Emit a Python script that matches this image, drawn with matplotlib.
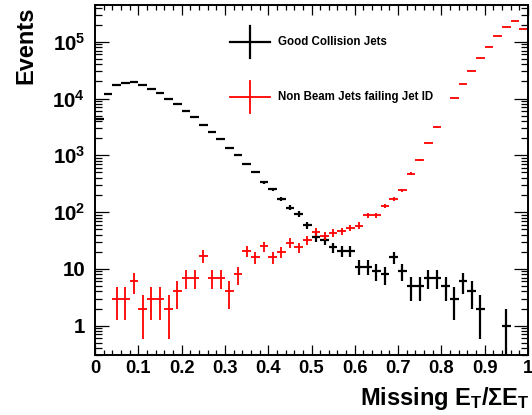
import numpy as np
import matplotlib.pyplot as plt
from matplotlib.ticker import FixedLocator, MultipleLocator, LogLocator, NullFormatter

plt.rcParams['font.family'] = ['Liberation Sans', 'DejaVu Sans']
plt.rcParams['font.weight'] = 'bold'
plt.rcParams['mathtext.fontset'] = 'custom'
plt.rcParams['mathtext.rm'] = 'Liberation Sans:bold'
plt.rcParams['mathtext.bf'] = 'Liberation Sans:bold'

# 50 bins of Missing ET / Sum ET, width 0.02
bin_width = 0.02
n_bins = 50

# events per bin (nan = empty bin)
good_jets = [4280, 11800, 17200, 18800, 19300, 17000, 14700, 12300, 10000, 7900,
             5950, 4640, 3440, 2590, 1900, 1320, 993, 717, 504, 335,
             253, 170, 120, 93, 59, 36, 32, 24, 21, 21,
             11, 11, 9, 8, 16, 9, 5, 5, 7, 7,
             5, 3, 6, 4, 2, np.nan, np.nan, 1, np.nan, np.nan]

nonbeam_jets = [np.nan, np.nan, 3, 3, 6, 2, 3, 3, 2, 4,
                7, 7, 17, 7, 7, 4, 8, 21, 16, 25,
                16, 20, 29, 24, 32, 45, 38, 43, 46, 53,
                58, 88, 88, 128, 168, 242, 477, 820, 1655, 3090,
                np.nan, 10150, 17950, 30400, 50900, 81600, 126000, 184000, 232000, 167000]

legend_labels = ['Good Collision Jets', 'Non Beam Jets failing Jet ID']
x_ticklabels = ['0', '0.1', '0.2', '0.3', '0.4', '0.5', '0.6', '0.7', '0.8', '0.9', '1']
y_ticks = [1, 10, 1e2, 1e3, 1e4, 1e5]
y_ticklabels = ['1', '10', r'$\mathregular{10^{2}}$', r'$\mathregular{10^{3}}$',
                r'$\mathregular{10^{4}}$', r'$\mathregular{10^{5}}$']

centers = (np.arange(n_bins) + 0.5) * bin_width

fig = plt.figure(figsize=(5.32, 4.15), dpi=100)
ax = fig.add_axes([0.1786, 0.1434, 0.9925 - 0.1786, 0.988 - 0.1434])
ax.set_yscale('log')

series = [(good_jets, 'black', 1.6), (nonbeam_jets, 'red', 1.3)]
for counts, col, lw in series:
    y = np.array(counts, dtype=float)
    ax.errorbar(centers, y, xerr=bin_width / 2, yerr=np.sqrt(y), fmt='none',
                ecolor=col, elinewidth=lw, capsize=0)

# legend keys drawn as crosses in axes coordinates
for i, (lab, (_, col, lw)) in enumerate(zip(legend_labels, series)):
    yk = [0.894, 0.7375][i]
    ax.plot([0.312, 0.404], [yk, yk], color=col, lw=lw, transform=ax.transAxes)
    ax.plot([0.358, 0.358], [yk - 0.046, yk + 0.046], color=col, lw=lw, transform=ax.transAxes)
    ax.text(0.4226, yk, lab, transform=ax.transAxes, fontsize=8.3,
            fontweight='bold', va='center', ha='left')

ax.set_xlim(0, 1)
ax.set_ylim(0.298, 4.44e5)

ax.xaxis.set_major_locator(MultipleLocator(0.1))
ax.xaxis.set_minor_locator(MultipleLocator(0.02))
ax.set_xticks(np.arange(11) * 0.1)
ax.set_xticklabels(x_ticklabels)
ax.yaxis.set_major_locator(FixedLocator(y_ticks))
ax.set_yticklabels(y_ticklabels)
ax.yaxis.set_minor_locator(LogLocator(base=10, subs=np.arange(2, 10)))
ax.yaxis.set_minor_formatter(NullFormatter())

ax.tick_params(which='both', direction='in', top=True, right=True, width=0.9)
ax.tick_params(axis='x', which='major', length=7, labelsize=13.2, pad=3)
ax.tick_params(axis='x', which='minor', length=3.5)
ax.tick_params(axis='y', which='major', length=10, labelsize=14.8, pad=7)
ax.tick_params(axis='y', which='minor', length=5)
for s in ax.spines.values():
    s.set_linewidth(1.4)

ax.set_xlabel(r'Missing $\mathregular{E_T/\Sigma E_T}$', fontsize=17,
              fontweight='bold', ha='right', va='top')
ax.xaxis.set_label_coords(1.005, -0.085)
fig.text(0.049, 0.9855, 'Events', rotation=90, fontsize=17, fontweight='bold',
         ha='center', va='top')

fig.savefig('out.png', dpi=100)
